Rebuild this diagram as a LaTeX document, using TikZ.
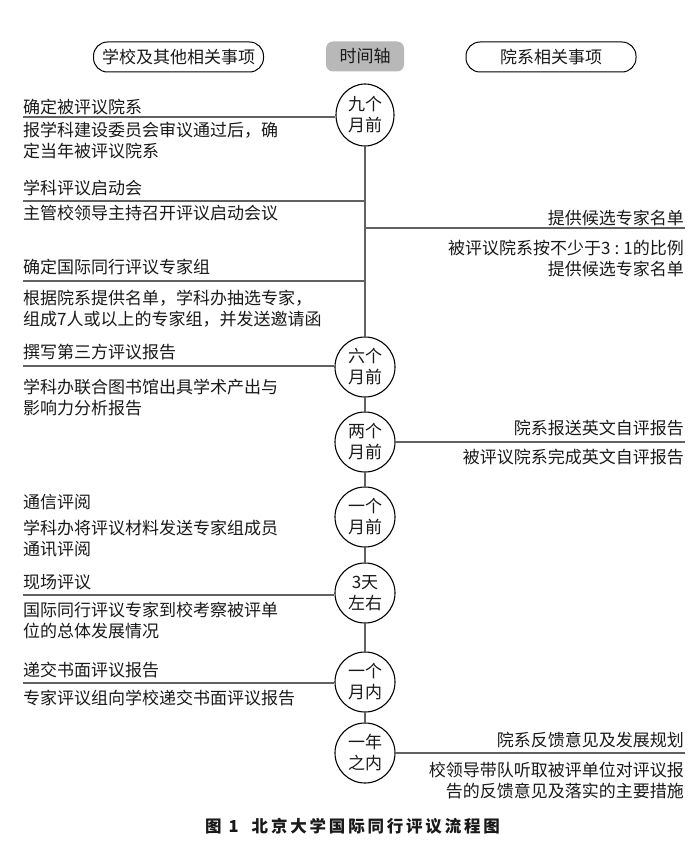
\documentclass[tikz,border=0pt]{standalone}
\usepackage{fontspec}
\setmainfont{Noto Sans CJK SC}
\newfontfamily\capfont{Noto Sans CJK SC}[LetterSpace=17]
\usetikzlibrary{shapes.geometric}

\tikzset{
  head/.style={draw, line width=1pt, rounded corners=14pt, minimum width=170pt, minimum height=30pt, inner sep=0pt},
  axisbox/.style={fill=black!28, rounded corners=7pt, minimum width=78pt, minimum height=30pt, inner sep=0pt},
  stage/.style={draw, circle, line width=1.1pt, minimum size=60pt, inner sep=0pt, align=center},
  rule/.style={draw=black!62, line width=1.5pt},
  ltxt/.style={anchor=north west, inner sep=0pt, align=left},
  rtxt/.style={anchor=north east, inner sep=0pt, align=right},
}

\begin{document}
\begin{tikzpicture}[x=1pt, y=-1pt, every node/.style={font=\fontsize{17}{21}\selectfont, text=black!90}]
\useasboundingbox (0,0) rectangle (696,843);

% headers
      \node[head] (hl) at (178.5,57) {学校及其他相关事项};
      \node[axisbox] (ha) at (365,56.5) {时间轴};
      \node[head] (hr) at (551,57) {院系相关事项};

% time line
      \node[draw, ellipse, line width=1.1pt, minimum width=58pt, minimum height=62pt, inner sep=0pt, align=center] (c1) at (365,115) {九个\\月前};
      \node[stage] (c2) at (365,367) {六个\\月前};
      \node[stage] (c3) at (365,442) {两个\\月前};
      \node[stage] (c4) at (365,517) {一个\\月前};
      \node[stage] (c5) at (365,593) {3天\\左右};
      \node[stage] (c6) at (365,682) {一个\\月内};
      \node[stage] (c7) at (365,753) {一年\\之内};
      \foreach \a/\b in {c1/c2, c2/c3, c3/c4, c4/c5, c5/c6, c6/c7}
        \draw[rule] (\a.south) -- (\b.north);

% left side
      \coordinate (l1) at (23,117);
      \coordinate (l2) at (23,201);
      \coordinate (l3) at (23,281);
      \coordinate (l4) at (23,366);
      \coordinate (l5) at (23,595);
      \coordinate (l6) at (23,683);
      \draw[rule] (l1) -- (l1 -| c1.west);
      \draw[rule] (l2) -- (l2 -| c1.south);
      \draw[rule] (l3) -- (l3 -| c1.south);
      \draw[rule] (l4) -- (l4 -| c2.west);
      \draw[rule] (l5) -- (l5 -| c5.west);
      \draw[rule] (l6) -- (l6 -| c6.west);

      \node[ltxt] (t1) at (23,99) {确定被评议院系};
      \node[ltxt] (d1) at (23,122) {报学科建设委员会审议通过后，确\\定当年被评议院系};
      \node[ltxt] (t2) at (23,180) {学科评议启动会};
      \node[ltxt] (d2) at (23,205) {主管校领导主持召开评议启动会议};
      \node[ltxt] (t3) at (23,259) {确定国际同行评议专家组};
      \node[ltxt] (d3) at (23,290) {根据院系提供名单，学科办抽选专家，\\组成7人或以上的专家组，并发送邀请函};
      \node[ltxt] (t4) at (23,344) {撰写第三方评议报告};
      \node[ltxt] (d4) at (23,379) {学科办联合图书馆出具学术产出与\\影响力分析报告};
      \node[ltxt] (t5) at (23,494) {通信评阅};
      \node[ltxt] (d5) at (23,520) {学科办将评议材料发送专家组成员\\通讯评阅};
      \node[ltxt] (t6) at (23,574) {现场评议};
      \node[ltxt] (d6) at (23,602) {国际同行评议专家到校考察被评单\\位的总体发展情况};
      \node[ltxt] (t7) at (23,662) {递交书面评议报告};
      \node[ltxt] (d7) at (23,690) {专家评议组向学校递交书面评议报告};

% right side
      \coordinate (r1) at (685,228);
      \coordinate (r2) at (685,442);
      \coordinate (r3) at (685,753);
      \draw[rule] (r1 -| c1.south) -- (r1);
      \draw[rule] (c3.east) -- (r2);
      \draw[rule] (c7.east) -- (r3);

      \node[rtxt] (s1) at (684,210) {提供候选专家名单};
      \node[rtxt] (e1) at (684,240) {被评议院系按不少于3\hspace{4pt}:\hspace{4pt}1的比例\\提供候选专家名单};
      \node[rtxt] (s2) at (684,420) {院系报送英文自评报告};
      \node[rtxt] (e2) at (684,449) {被评议院系完成英文自评报告};
      \node[rtxt] (s3) at (684,732) {院系反馈意见及发展规划};
      \node[rtxt] (e3) at (684,762) {校领导带队听取被评单位对评议报\\告的反馈意见及落实的主要措施};

% caption
      \node[anchor=west, inner sep=0pt, font=\capfont\bfseries\fontsize{16.5}{20}\selectfont] (cap) at (205,826) {图\hspace{7pt}1\hspace{13pt}北京大学国际同行评议流程图};

    \end{tikzpicture}
\end{document}
